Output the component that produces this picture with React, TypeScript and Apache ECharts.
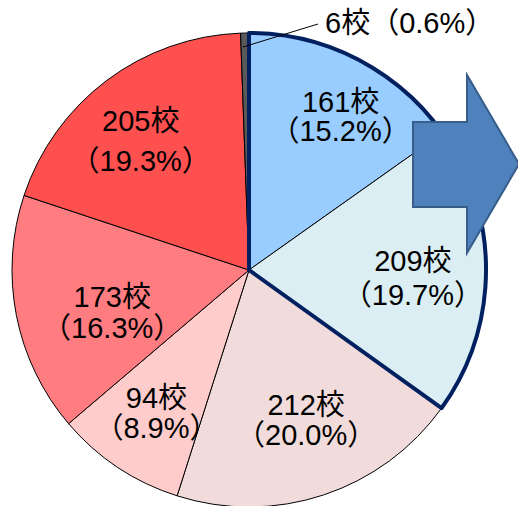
import React, { useEffect, useRef } from "react";
import * as echarts from "echarts";

const categories = ["A", "B", "C", "D", "E", "F", "G"];
const counts = [161, 209, 212, 94, 173, 205, 6];
const percents = ["15.2", "19.7", "20.0", "8.9", "16.3", "19.3", "0.6"];
const colors = ["#99CCFF", "#DAEEF3", "#F2DCDB", "#FFCCCC", "#FF7C80", "#FF5050", "#595959"];
const unit = "校";
const highlighted = [0, 1];

const FONT = "'Liberation Sans', 'Noto Sans CJK JP', sans-serif";
const CENTER = [249, 270];
const R = 237;
const labelOffsets = [
  [14, -3],
  [-5, 7],
  [4, -10],
  [1, 2],
  [29, 10],
  [-7, 6],
  [0, 0],
];
const labelLineHeights = [29, 34, 30, 30, 31, 40, 30];

export default function App() {
  const ref = useRef<HTMLDivElement>(null);
  useEffect(() => {
    if (!ref.current) return;
    const chart = echarts.init(ref.current, null, { renderer: "svg" });
    const total = counts.reduce((a, b) => a + b, 0);
    const hiSum = highlighted.reduce((a, i) => a + counts[i], 0);
    const last = counts.length - 1;
    const option: any = {
      animation: false,
      series: [
        {
          type: "pie",
          center: CENTER,
          radius: [0, R],
          startAngle: 90,
          clockwise: true,
          silent: true,
          label: { show: false },
          labelLine: { show: false },
          z: 2,
          data: counts.map((v, i) => ({
            name: categories[i],
            value: v,
            itemStyle: { color: colors[i], borderColor: "#000", borderWidth: 1 },
          })),
        },
        {
          type: "pie",
          center: CENTER,
          radius: [0, R],
          startAngle: 90,
          clockwise: true,
          silent: true,
          label: { show: false },
          labelLine: { show: false },
          z: 3,
          data: [
            { name: "hi", value: hiSum, itemStyle: { color: "rgba(0,0,0,0)", borderColor: "#002060", borderWidth: 4 } },
            { name: "rest", value: total - hiSum, itemStyle: { color: "rgba(0,0,0,0)", borderWidth: 0 } },
          ],
        },
        {
          type: "pie",
          center: CENTER,
          radius: [R * 0.4, R],
          startAngle: 90,
          clockwise: true,
          silent: true,
          z: 4,
          labelLine: { show: false },
          labelLayout: (p: any) => {
            const o = labelOffsets[p.dataIndex] || [0, 0];
            return { dx: o[0], dy: o[1] };
          },
          data: counts.map((v, i) => ({
            name: categories[i],
            value: v,
            itemStyle: { color: "rgba(0,0,0,0)", borderWidth: 0 },
            label: {
              show: i !== last,
              position: "inside",
              formatter: `${v}${unit}\n（${percents[i]}%）`,
              fontFamily: FONT,
              fontSize: 29,
              lineHeight: labelLineHeights[i],
              color: "#000",
              align: "center",
            },
          })),
        },
      ],
      graphic: [
        {
          type: "line",
          z: 100,
          shape: { x1: 243, y1: 47, x2: 318, y2: 24 },
          style: { stroke: "#000", lineWidth: 1 },
        },
        {
          type: "text",
          z: 100,
          x: 325,
          y: 23,
          style: {
            text: `${counts[last]}${unit}（${percents[last]}%）`,
            font: `29px ${FONT}`,
            fill: "#000",
            textVerticalAlign: "middle",
            verticalAlign: "middle",
          },
        },
        {
          type: "polygon",
          z: 100,
          shape: {
            points: [
              [413, 122],
              [467, 122],
              [467, 75],
              [519, 164],
              [467, 253],
              [467, 207],
              [413, 207],
            ],
          },
          style: { fill: "#4F81BD", stroke: "#385D8A", lineWidth: 2 },
        },
      ],
    };
    chart.setOption(option);
    return () => chart.dispose();
  }, []);
  return (
    <div
      ref={ref}
      style={{ position: "fixed", left: 0, top: 0, width: 518, height: 506, background: "#fff" }}
    />
  );
}
